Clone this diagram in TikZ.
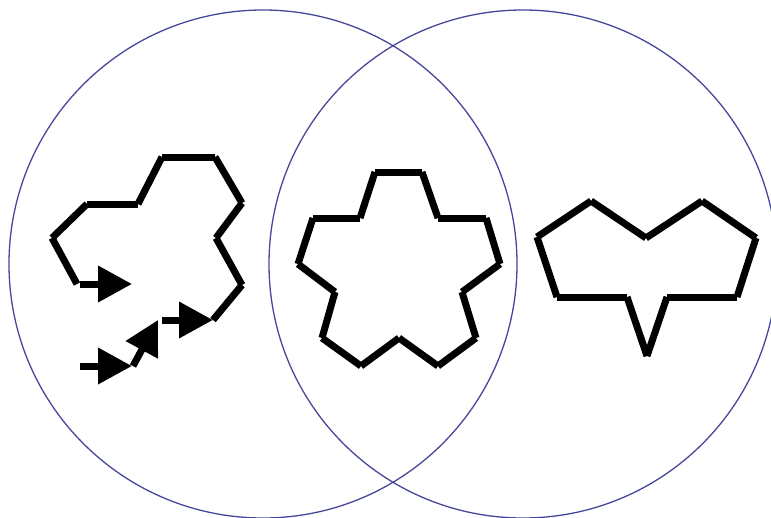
\documentclass[tikz,border=0pt]{standalone}
\usetikzlibrary{arrows.meta}
\definecolor{ringblue}{HTML}{46469A}
\begin{document}
\begin{tikzpicture}[x=1pt,y=-1pt,
  ring/.style={draw=ringblue,line width=1.3pt},
  seg/.style={line width=7pt,line cap=butt},
  turtle/.style={line width=7pt,line cap=butt,-{Triangle[length=34pt,width=35pt]}}]
\useasboundingbox (0,0) rectangle (771,517);
% circles
\draw[ring] (263,264) circle (254);
\draw[ring] (523,264) circle (254);
% left shape
\foreach \n/\p in {a/{77,284},b/{52,238},c/{87,204},d/{138,204},e/{162,157},f/{215,157},g/{242,203},h/{216,238},i/{242,285},j/{213,320}}
  \coordinate (L\n) at (\p);
\foreach \u/\v in {a/b,b/c,c/d,d/e,e/f,f/g,g/h,h/i,i/j}
  \draw[seg] (L\u) -- (L\v);
% arrows of the left shape
\coordinate (A1s) at (80,284); \coordinate (A1e) at (132,284);
\coordinate (A2s) at (162,320); \coordinate (A2e) at (213,320);
\coordinate (A3s) at (80,366); \coordinate (A3e) at (132,366);
\coordinate (A4s) at (133,366); \coordinate (A4e) at (158,320);
\draw[turtle] (A1s) -- (A1e);
\draw[turtle] (A2s) -- (A2e);
\draw[turtle] (A3s) -- (A3e);
\draw[turtle] (A4s) -- (A4e);
% middle shape
\foreach \n/\p in {a/{375,172},b/{422,172},c/{438,218},d/{486,218},e/{500,264},f/{462,292},g/{476,338},h/{438,366},i/{399,338},j/{361,366},k/{322,338},l/{335,292},m/{298,264},n/{313,218},o/{360,218}}
  \coordinate (M\n) at (\p);
\foreach \u/\v in {a/b,b/c,c/d,d/e,e/f,f/g,g/h,h/i,i/j,j/k,k/l,l/m,m/n,n/o,o/a}
  \draw[seg] (M\u) -- (M\v);
% right shape
\foreach \n/\p in {a/{537,237},b/{591,201},c/{646,238},d/{702,201},e/{756,238},f/{737,297},g/{667,297},h/{647,356},i/{627,297},j/{557,297}}
  \coordinate (R\n) at (\p);
\foreach \u/\v in {a/b,b/c,c/d,d/e,e/f,f/g,g/h,h/i,i/j,j/a}
  \draw[seg] (R\u) -- (R\v);
\end{tikzpicture}
\end{document}
